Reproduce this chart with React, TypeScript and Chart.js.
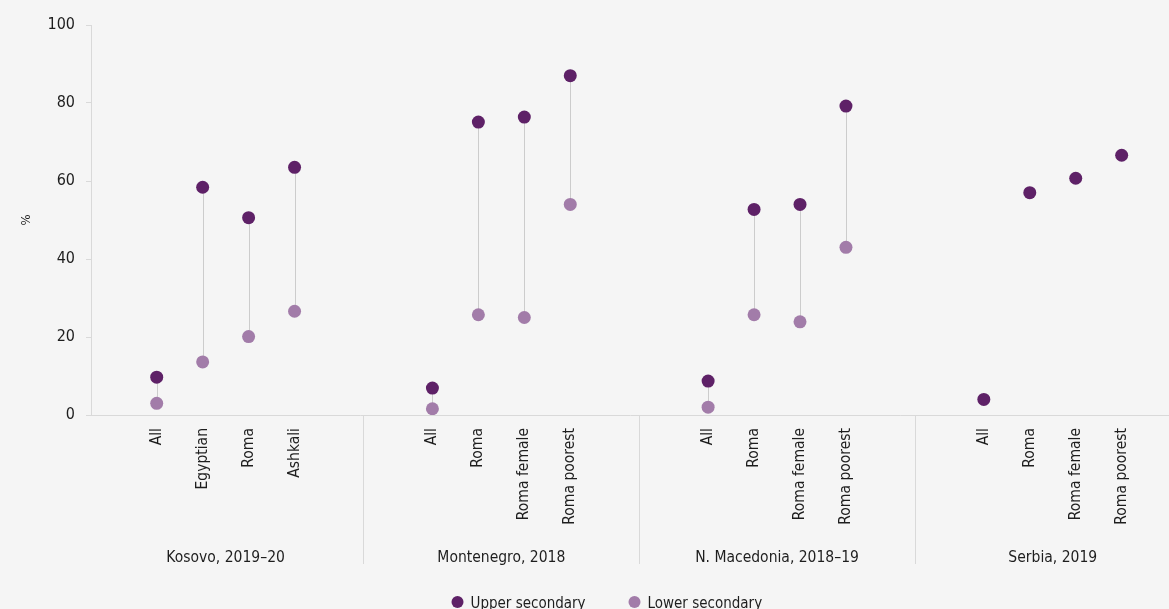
import React, { useEffect, useRef } from "react";
import { Chart, registerables } from "chart.js";

Chart.register(...registerables);

const groups = ["Kosovo, 2019–20", "Montenegro, 2018", "N. Macedonia, 2018–19", "Serbia, 2019"];
const kosovoLabels = ["All", "Egyptian", "Roma", "Ashkali"];
const montenegroLabels = ["All", "Roma", "Roma female", "Roma poorest"];
const macedoniaLabels = ["All", "Roma", "Roma female", "Roma poorest"];
const serbiaLabels = ["All", "Roma", "Roma female", "Roma poorest"];
const categoryLabels = [kosovoLabels, montenegroLabels, macedoniaLabels, serbiaLabels];

const upperSecondary = [9.7, 58.4, 50.6, 63.5, 6.9, 75.1, 76.4, 87.0, 8.7, 52.7, 54.0, 79.2, 4.0, 57.0, 60.7, 66.6];
const lowerSecondary: (number | null)[] = [3.0, 13.6, 20.1, 26.6, 1.6, 25.7, 25.0, 54.0, 2.0, 25.7, 23.9, 43.0, null, null, null, null];
const yTicks = [0, 20, 40, 60, 80, 100];
const seriesNames = ["Upper secondary", "Lower secondary"];

const UPPER_COLOR = "#5e2167";
const LOWER_COLOR = "#a27ca9";
const TEXT_COLOR = "#1e1e1e";
const AXIS_COLOR = "#d9d9d9";
const FONT = "'DejaVu Sans Condensed', 'Liberation Sans', Arial, sans-serif";

const W = 1169;
const H = 609;

// slot layout: each group occupies 6 slots, the 4 items centred inside
const SLOTS = 6;
const xPositions: number[] = [];
const flatLabels: string[] = [];
categoryLabels.forEach((labels, g) => {
  labels.forEach((lab, i) => {
    xPositions.push(g * SLOTS + 1.5 + i);
    flatLabels.push(lab);
  });
});
const X_MIN = 0.07;
const X_MAX = 23.53;

const decorPlugin = {
  id: "decor",
  beforeDatasetsDraw(chart: any) {
    const { ctx, scales } = chart;
    const x = scales.x;
    const y = scales.y;
    ctx.save();
    ctx.strokeStyle = "#cccccc";
    ctx.lineWidth = 1;
    xPositions.forEach((xv, k) => {
      const lo = lowerSecondary[k];
      const up = upperSecondary[k];
      if (lo == null || up == null) return;
      const px = Math.round(x.getPixelForValue(xv)) + 0.5;
      ctx.beginPath();
      ctx.moveTo(px, y.getPixelForValue(lo));
      ctx.lineTo(px, y.getPixelForValue(up));
      ctx.stroke();
    });
    ctx.restore();
  },
  afterDraw(chart: any) {
    const { ctx, scales, chartArea } = chart;
    const x = scales.x;
    const base = chartArea.bottom;
    ctx.save();
    // category labels
    ctx.fillStyle = TEXT_COLOR;
    ctx.font = `15.5px ${FONT}`;
    xPositions.forEach((xv, k) => {
      const px = x.getPixelForValue(xv);
      ctx.save();
      ctx.translate(px, base + 13);
      ctx.rotate(-Math.PI / 2);
      ctx.textAlign = "right";
      ctx.textBaseline = "middle";
      ctx.fillText(flatLabels[k], 0, 0);
      ctx.restore();
    });
    // separators
    ctx.strokeStyle = AXIS_COLOR;
    ctx.lineWidth = 1;
    for (let g = 1; g < groups.length; g++) {
      const px = Math.round(x.getPixelForValue(g * SLOTS)) + 0.5;
      ctx.beginPath();
      ctx.moveTo(px, base);
      ctx.lineTo(px, base + 149);
      ctx.stroke();
    }
    // group labels
    ctx.font = `15.5px ${FONT}`;
    ctx.textAlign = "center";
    ctx.textBaseline = "middle";
    groups.forEach((name, g) => {
      const px = x.getPixelForValue(g * SLOTS + SLOTS / 2);
      ctx.fillText(name, px, base + 143);
    });
    // legend
    ctx.font = `15px ${FONT}`;
    const colors = [UPPER_COLOR, LOWER_COLOR];
    const r = 6;
    const gapText = 7;
    const pitch = 177;
    const firstCenter = 457.5;
    const ly = 602;
    seriesNames.forEach((n, i) => {
      const cx = firstCenter + i * pitch;
      ctx.fillStyle = colors[i];
      ctx.beginPath();
      ctx.arc(cx, ly, r, 0, Math.PI * 2);
      ctx.fill();
      ctx.fillStyle = TEXT_COLOR;
      ctx.textAlign = "left";
      ctx.textBaseline = "alphabetic";
      ctx.fillText(n, cx + r + gapText, 607.5);
    });
    ctx.restore();
  },
};

export default function App() {
  const canvasRef = useRef<HTMLCanvasElement>(null);

  useEffect(() => {
    document.body.style.margin = "0";
    document.body.style.overflow = "hidden";
    document.body.style.background = "#f5f5f5";
    const canvas = canvasRef.current;
    if (!canvas) return;
    const chart = new Chart(canvas, {
      type: "scatter",
      data: {
        datasets: [
          {
            label: seriesNames[0],
            data: xPositions.map((xv, k) => ({ x: xv, y: upperSecondary[k] })),
            backgroundColor: UPPER_COLOR,
            borderWidth: 0,
            pointRadius: 6.5,
            pointHoverRadius: 6.5,
            order: 1,
          },
          {
            label: seriesNames[1],
            data: xPositions.map((xv, k) => ({ x: xv, y: lowerSecondary[k] })),
            backgroundColor: LOWER_COLOR,
            borderWidth: 0,
            pointRadius: 6.5,
            pointHoverRadius: 6.5,
            order: 2,
          },
        ],
      },
      options: {
        animation: false,
        responsive: false,
        maintainAspectRatio: false,
        devicePixelRatio: 1,
        layout: { autoPadding: false, padding: { top: 25, right: 0, bottom: 0, left: 0 } },
        plugins: {
          legend: { display: false },
          tooltip: { enabled: false },
        },
        scales: {
          x: {
            type: "linear",
            min: X_MIN,
            max: X_MAX,
            ticks: { display: false },
            grid: { display: true, drawOnChartArea: false, drawTicks: false },
            border: { color: AXIS_COLOR, width: 1 },
            afterFit: (s: any) => {
              s.height = 194;
            },
          },
          y: {
            min: 0,
            max: 100,
            afterBuildTicks: (s: any) => {
              s.ticks = yTicks.map((v) => ({ value: v }));
            },
            ticks: { color: TEXT_COLOR, font: { family: FONT, size: 16 }, padding: 11 },
            grid: { display: true, drawOnChartArea: false, drawTicks: true, tickLength: 5, color: AXIS_COLOR },
            border: { color: AXIS_COLOR, width: 1 },
            title: {
              display: true,
              text: "%",
              color: TEXT_COLOR,
              font: { family: FONT, size: 13 },
              padding: { top: 19, bottom: 0 },
            },
            afterFit: (s: any) => {
              s.width = 91;
            },
          },
        },
      },
      plugins: [decorPlugin],
    });
    return () => chart.destroy();
  }, []);

  return (
    <div style={{ position: "relative", width: W, height: H, background: "#f5f5f5", overflow: "hidden" }}>
      <canvas ref={canvasRef} width={W} height={H} style={{ display: "block" }} />
    </div>
  );
}
